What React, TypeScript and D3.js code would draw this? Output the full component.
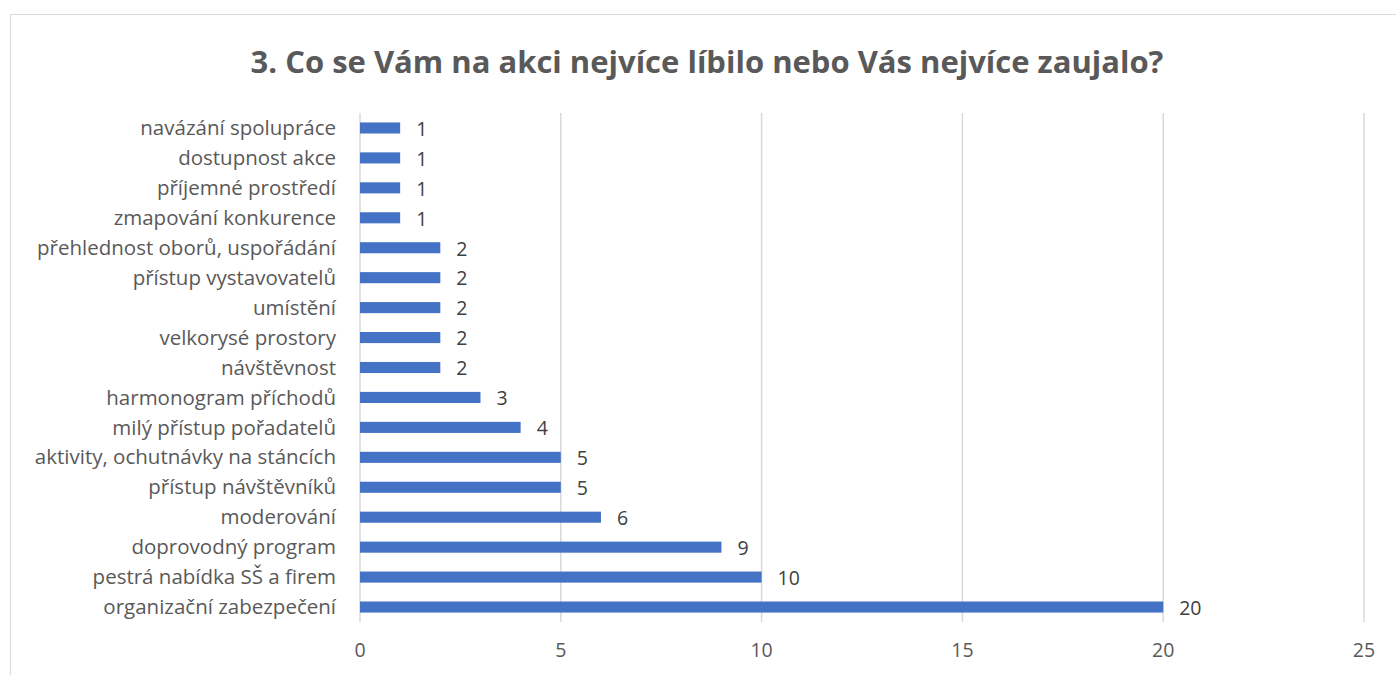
import React from 'react';
import * as d3 from 'd3';

const categories = [
  'navázání spolupráce',
  'dostupnost akce',
  'příjemné prostředí',
  'zmapování konkurence',
  'přehlednost oborů, uspořádání',
  'přístup vystavovatelů',
  'umístění',
  'velkorysé prostory',
  'návštěvnost',
  'harmonogram příchodů',
  'milý přístup pořadatelů',
  'aktivity, ochutnávky na stáncích',
  'přístup návštěvníků',
  'moderování',
  'doprovodný program',
  'pestrá nabídka SŠ a firem',
  'organizační zabezpečení',
];
const values = [1, 1, 1, 1, 2, 2, 2, 2, 2, 3, 4, 5, 5, 6, 9, 10, 20];
const ticks = [0, 5, 10, 15, 20, 25];

const title = '3. Co se Vám na akci nejvíce líbilo nebo Vás nejvíce zaujalo?';

export default function App() {
  const width = 1396,
    height = 675;
  const margin = { top: 113, right: 32, bottom: 53, left: 360 };
  const font = "'Open Sans', 'Noto Sans', sans-serif";

  const x = d3
    .scaleLinear()
    .domain([0, 25])
    .range([margin.left, width - margin.right]);

  const y = d3
    .scaleBand()
    .domain(categories)
    .range([margin.top, height - margin.bottom])
    .paddingInner(0.63)
    .paddingOuter(0.315);

  const data = categories.map((c, i) => ({ cat: c, value: values[i] }));

  return (
    <svg
      width={width}
      height={height}
      style={{ position: 'absolute', left: 0, top: 0, background: '#fff' }}
    >
      <rect x={10.5} y={14.5} width={1400} height={700} fill="#fff" stroke="#d9d9d9" />
      <text
        x={707}
        y={73}
        textAnchor="middle"
        fontFamily={font}
        fontSize={31}
        fontWeight="bold"
        fill="#595959"
      >
        {title}
      </text>
      {ticks.map((t) => (
        <g key={t}>
          <line
            x1={x(t)}
            x2={x(t)}
            y1={margin.top}
            y2={height - margin.bottom}
            stroke="#d9d9d9"
            strokeWidth={1.5}
          />
          <text
            x={x(t)}
            y={657}
            textAnchor="middle"
            fontFamily={font}
            fontSize={19.5}
            fill="#595959"
          >
            {t}
          </text>
        </g>
      ))}
      {data.map((d) => {
        const yy = y(d.cat)!;
        const cy = yy + y.bandwidth() / 2;
        return (
          <g key={d.cat}>
            <rect
              x={x(0)}
              y={yy}
              width={x(d.value) - x(0)}
              height={y.bandwidth()}
              fill="#4472c4"
            />
            <text
              x={x(0) - 24}
              y={cy}
              dy="0.35em"
              textAnchor="end"
              fontFamily={font}
              fontSize={20.5}
              fill="#595959"
            >
              {d.cat}
            </text>
            <text
              x={x(d.value) + 16}
              y={cy}
              dy="0.4em"
              fontFamily={font}
              fontSize={19.5}
              fill="#404040"
            >
              {d.value}
            </text>
          </g>
        );
      })}
    </svg>
  );
}
